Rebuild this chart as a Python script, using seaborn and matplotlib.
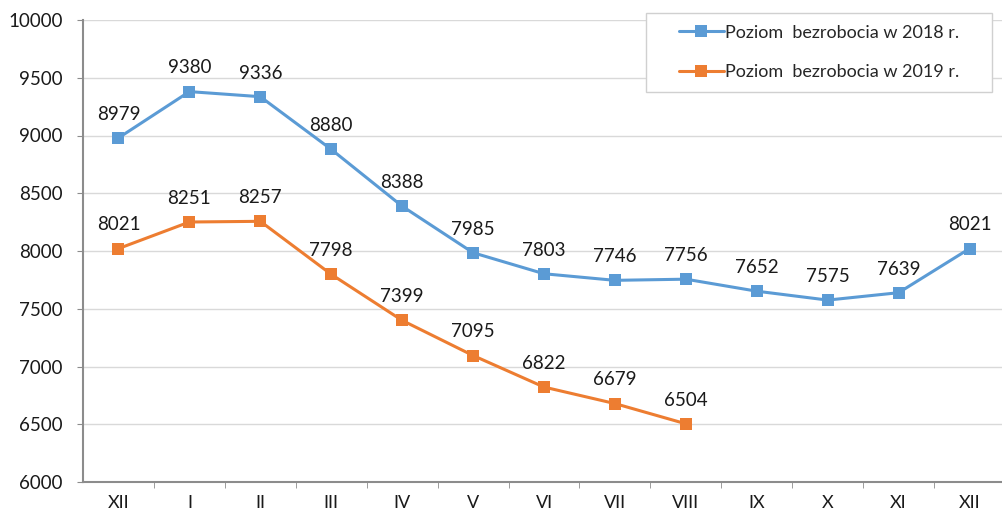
import numpy as np
import pandas as pd
import matplotlib
matplotlib.use('Agg')
import matplotlib.pyplot as plt
from matplotlib.patches import Rectangle
import seaborn as sns

# Month labels (December of previous year through December)
months = ['XII', 'I', 'II', 'III', 'IV', 'V', 'VI', 'VII', 'VIII', 'IX', 'X', 'XI', 'XII']
values_2018 = [8979, 9380, 9336, 8880, 8388, 7985, 7803, 7746, 7756, 7652, 7575, 7639, 8021]
values_2019 = [8021, 8251, 8257, 7798, 7399, 7095, 6822, 6679, 6504]
label_2018 = 'Poziom  bezrobocia w 2018 r.'
label_2019 = 'Poziom  bezrobocia w 2019 r.'

blue = '#5B9BD5'
orange = '#ED7D31'
axis_grey = '#8c8c8c'

sns.set_style('white')
plt.rcParams['font.family'] = ['Lato', 'DejaVu Sans']

df = pd.concat([
    pd.DataFrame({'pos': range(len(values_2018)), 'value': values_2018, 'series': label_2018}),
    pd.DataFrame({'pos': range(len(values_2019)), 'value': values_2019, 'series': label_2019}),
])

W, H = 1003, 516
fig = plt.figure(figsize=(W / 100, H / 100), dpi=100)
ax = fig.add_axes([83 / W, 34 / H, 1 - 83 / W + 0.002, 462 / H])

sns.lineplot(data=df, x='pos', y='value', hue='series', palette=[blue, orange],
             marker='s', markersize=8, markeredgewidth=0, linewidth=2.2, ax=ax)

# data labels above each point
for vals in (values_2018, values_2019):
    for i, v in enumerate(vals):
        ax.annotate(str(v), (i, v), xytext=(0, 17), textcoords='offset points',
                    ha='center', va='center', fontsize=13.5, color='#1a1a1a')

ax.set_xlim(-0.5, len(months) - 0.5)
ax.set_ylim(6000, 10000)
ax.set_yticks(np.arange(6000, 10001, 500))
ax.set_xticks(range(len(months)))
ax.set_xticklabels(months)
ax.set_xticks(np.arange(0.5, len(months) - 0.5, 1), minor=True)
ax.tick_params(axis='x', which='major', length=0, pad=9, labelsize=13, labelcolor='#1a1a1a')
ax.tick_params(axis='x', which='minor', length=4.5, color=axis_grey, direction='out', bottom=True)
ax.tick_params(axis='y', length=4.5, color=axis_grey, direction='out', left=True,
               labelsize=13.5, labelcolor='#1a1a1a', pad=10)
ax.set_xlabel('')
ax.set_ylabel('')

ax.grid(axis='y', color='#d9d9d9', linewidth=1)
ax.set_axisbelow(True)
for side in ('top', 'right'):
    ax.spines[side].set_visible(False)
for side in ('left', 'bottom'):
    ax.spines[side].set_color(axis_grey)
    ax.spines[side].set_linewidth(1.5)

# legend box drawn separately (wider side padding than matplotlib allows)
bx0, bx1, by0, by1 = 646, 992, 13, 92
ax.add_patch(Rectangle((bx0 / W, 1 - by1 / H), (bx1 - bx0) / W, (by1 - by0) / H,
                       transform=fig.transFigure, facecolor='white', clip_on=False,
                       edgecolor='#d0d0d0', linewidth=1, zorder=5))
leg = ax.legend(loc='center', bbox_to_anchor=((bx0 + bx1) / 2 / W, 1 - (by0 + by1) / 2 / H),
                bbox_transform=fig.transFigure, fontsize=13, frameon=False,
                borderpad=0.2, labelspacing=1.3, handlelength=2.5, handletextpad=0.05)
leg.set_zorder(6)

fig.savefig('out.png', dpi=100)
